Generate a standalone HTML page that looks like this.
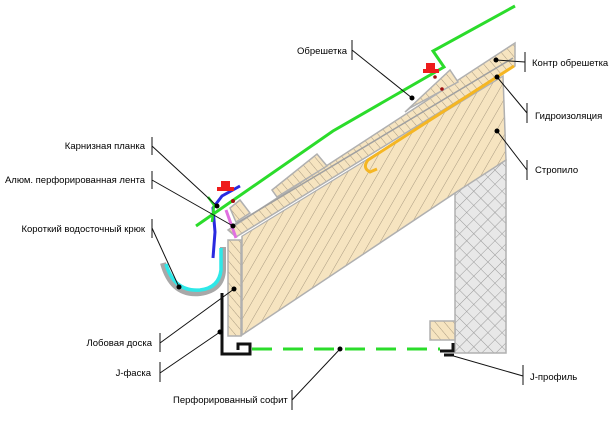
<!DOCTYPE html>
<html><head><meta charset="utf-8"><style>
html,body{margin:0;padding:0;background:#fff;}
svg{display:block;font-family:"Liberation Sans",sans-serif;font-size:9.5px;}
</style></head><body>
<svg width="615" height="421" viewBox="0 0 615 421" xmlns="http://www.w3.org/2000/svg">
<defs>
<pattern id="h" patternUnits="userSpaceOnUse" width="9" height="9" patternTransform="rotate(30)">
<rect width="9" height="9" fill="#f6e4c0"/><line x1="0" y1="0" x2="0" y2="9" stroke="#a99a80" stroke-width="1"/>
</pattern>
<pattern id="h2" patternUnits="userSpaceOnUse" width="7" height="7" patternTransform="rotate(-40)">
<rect width="7" height="7" fill="#f6e4c0"/><line x1="0" y1="0" x2="0" y2="7" stroke="#a99a80" stroke-width="1"/>
</pattern>
<pattern id="x" patternUnits="userSpaceOnUse" width="10" height="10" patternTransform="rotate(45)">
<rect width="10" height="10" fill="#e8e8e8"/><path d="M0 0V10M0 0H10" stroke="#9a9a9a" stroke-width="1"/>
</pattern>
</defs>
<rect x="455" y="160" width="51" height="193" fill="url(#x)" stroke="#b0b0b0" stroke-width="1.5"/>
<polygon points="242,236 503,76 506,160 455,193 242,335" fill="url(#h)" stroke="#b0b0b0" stroke-width="1.5"/>
<line x1="236" y1="238" x2="503" y2="74" stroke="#fff" stroke-width="2"/>
<polygon points="228,230 515,43 515,66 236,237" fill="url(#h2)" stroke="#b0b0b0" stroke-width="1.5"/>
<line x1="232" y1="226" x2="513" y2="58" stroke="#a0a0a0" stroke-width="1.5"/>
<polygon points="272,190 317,154 327,166 277,197" fill="url(#h2)" stroke="#b0b0b0" stroke-width="1.5"/>
<polygon points="405,112 450,70 458,82 410,108" fill="url(#h2)" stroke="#b0b0b0" stroke-width="1.5"/>
<polygon points="230,208 240,200 250,213 236,222" fill="url(#h2)" stroke="#b0b0b0" stroke-width="1.5"/>
<path d="M514 66 L368 160 Q362 168 370 172 L377 169" fill="none" stroke="#f5b623" stroke-width="3"/>
<rect x="228" y="240" width="13" height="96" fill="url(#h2)" stroke="#b0b0b0" stroke-width="1.5"/>
<rect x="430" y="321" width="25" height="19" fill="url(#h2)" stroke="#b0b0b0" stroke-width="1.5"/>
<path d="M163 263 Q172 296 200 293 Q222 290 223 270 L223 247" fill="none" stroke="#a8a8a8" stroke-width="6"/>
<path d="M166 264 Q174 292 200 290 Q219 288 221 270 L221 248" fill="none" stroke="#2ee8e8" stroke-width="3.5"/>
<path d="M240 186 L222 196 L213 208 L215 232 L213 258" fill="none" stroke="#2a2ae0" stroke-width="3"/>
<path d="M226 210 L236 238" stroke="#e070e0" stroke-width="3"/>
<path d="M196 226 L333 131 L444 67 L433 51 L515 6" fill="none" stroke="#2bdc2b" stroke-width="3"/>
<path d="M208 197 L214 205 L212 222" fill="none" stroke="#2bdc2b" stroke-width="2.5"/>
<g fill="#ee1c1c"><rect x="221" y="181" width="9" height="8"/><rect x="217" y="187" width="17" height="4"/>
<rect x="426" y="63" width="9" height="8"/><rect x="423" y="69" width="16" height="4"/></g>
<circle cx="233" cy="201" r="2" fill="#a01010"/><circle cx="435" cy="77" r="1.8" fill="#a01010"/><circle cx="442" cy="89" r="1.8" fill="#a01010"/>
<line x1="252" y1="349" x2="440" y2="349" stroke="#2bdc2b" stroke-width="3" stroke-dasharray="20,11"/>
<path d="M222 293 L222 354 L250 354 L250 344 L238 344 L238 350" fill="none" stroke="#111" stroke-width="3"/>
<path d="M440 351 L453 351 L453 343 M444 355 L454 355" fill="none" stroke="#111" stroke-width="3"/>
<g stroke="#111" stroke-width="1" fill="none">
<path d="M352 40V60 M352 50 L412 98"/>
<path d="M525 52V72 M525 62 L496 60"/>
<path d="M527 103V123 M527 113 L497 77"/>
<path d="M527 160V180 M527 170 L497 131"/>
<path d="M152 137V155 M152 146 L217 206"/>
<path d="M152 171V189 M152 180 L233 226"/>
<path d="M152 219V238 M152 228 L179 287"/>
<path d="M160 333V352 M160 343 L234 289"/>
<path d="M160 362V382 M160 373 L220 332"/>
<path d="M292 390V410 M292 400 L340 349"/>
<path d="M523 365V385 M523 376 L450 355"/>
</g>
<g fill="#000"><circle cx="412" cy="98" r="2.5"/><circle cx="496" cy="60" r="2.5"/><circle cx="497" cy="77" r="2.5"/><circle cx="497" cy="131" r="2.5"/><circle cx="217" cy="206" r="2.5"/><circle cx="233" cy="226" r="2.5"/><circle cx="179" cy="287" r="2.5"/><circle cx="234" cy="289" r="2.5"/><circle cx="220" cy="332" r="2.5"/><circle cx="340" cy="349" r="2.5"/></g>
<g fill="#000">
<text x="297" y="54">Обрешетка</text>
<text x="532" y="66">Контр обрешетка</text>
<text x="535" y="119">Гидроизоляция</text>
<text x="535" y="173">Стропило</text>
<text x="145" y="149" text-anchor="end">Карнизная  планка</text>
<text x="145" y="183" text-anchor="end">Алюм. перфорированная   лента</text>
<text x="145" y="232" text-anchor="end">Короткий водосточный крюк</text>
<text x="152" y="346" text-anchor="end">Лобовая доска</text>
<text x="151" y="376" text-anchor="end">J-фаска</text>
<text x="173" y="403">Перфорированный  софит</text>
<text x="530" y="380">J-профиль</text>
</g>
</svg>
</body></html>
